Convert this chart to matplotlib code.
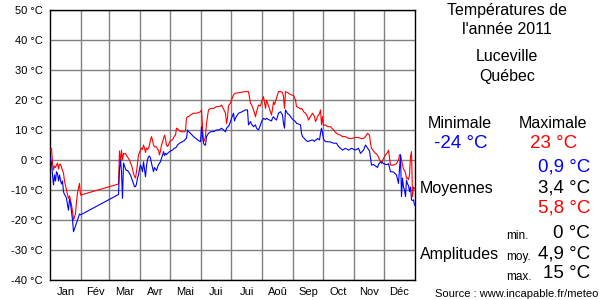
import matplotlib
matplotlib.use("Agg")
import matplotlib.pyplot as plt

plt.rcParams['font.family'] = ['Liberation Sans', 'DejaVu Sans']

# ---- data (day of year index, daily max / min in °C) ----
days = [0, 1, 2, 3, 4, 5, 6, 7, 8, 9, 10, 11, 12, 13, 14, 15, 16, 17, 18, 19, 20,
        21, 22, 23, 24, 25, 26, 27, 28, 29, 30,
        68, 69, 70, 71, 72, 73, 74, 75, 76, 77, 78, 79, 80, 81, 82, 83, 84, 85, 86, 87,
        88, 89, 90, 91, 92, 93, 94, 95, 96, 97, 98, 99, 100, 101, 102, 103, 104, 105, 106,
        107, 108, 109, 110, 111, 112, 113, 114, 115, 116, 117, 118, 119, 120, 122, 124, 125,
        126, 127, 128, 130, 132, 134, 135, 136, 137, 138, 140, 143, 146, 148, 150, 151, 152,
        153, 154, 155, 156, 158, 160, 163, 166, 168, 170, 171, 173, 175, 176, 177, 178, 180,
        181, 183, 184, 185, 188, 191, 195, 197, 198, 200, 201, 203, 205, 206, 208, 210, 211,
        213, 215, 216, 218, 221, 222, 223, 224, 226, 228, 230, 232, 233, 234, 235, 237, 239,
        241, 243, 245, 246, 248, 250, 251, 252, 253, 255, 257, 258, 260, 262, 264, 265, 266,
        267, 269, 270, 271, 272, 273, 275, 277, 280, 283, 286, 288, 290, 292, 295, 298, 301,
        305, 308, 310, 313, 315, 317, 319, 320, 321, 323, 325, 326, 327, 328, 329, 331, 333,
        335, 337, 338, 340, 343, 346, 348, 349, 350, 351, 352, 353, 354, 355, 356, 357, 358,
        359, 360, 361, 362, 363, 364]

t_max = [3.3, 3.9, -1, -3.3, -2, -2.5, -1.7, -1, -3, -1.4, -1.4, -2.5, -3.5, -4.4, -7, -8.5,
         -10, -11.5, -12.8, -12, -13.3, -15, -17, -20, -19, -17.8, -13.9, -11, -9.4, -7.8, -11.7,
         -8, 3, -1, 3.3, 0, 2.2, 2, 2.2, 1.5, 1, 0.5, 0, -1, -1.7, -3, -4.5, -5.5, -6, -3.9, -1,
         1.7, 2.5, 3.3, 4, 3.5, 5, 4, 2.5, 4, 3.5, 4, 5, 6.7, 7.8, 6.5, 5, 4.4, 4.4, 4.4,
         3.5, 3.3, 1.7, 3, 5, 6, 7.2, 8.3, 7, 5, 4.5, 5, 6, 6.5, 6.7, 8, 8.3,
         10.6, 10.5, 10, 9.5, 9.4, 9.4, 9.8, 14, 14.4, 14.5, 15, 15.6, 15.6, 15.8, 16.1, 16.7, 11,
         6.1, 6.5, 8, 12.2, 16.7, 17.2, 17.2, 17.8, 17.8, 18, 18.3, 17, 15.6, 12.2, 14, 18, 19,
         20, 21.7, 22, 22.3, 22.4, 22.6, 22.8, 22.8, 22.8, 18.9, 18.5, 16.7, 14.4, 16, 18.3, 18, 19.4,
         21.1, 17.2, 20, 18, 15, 17, 19.4, 18.5, 20.6, 22.8, 22.8, 22.5, 21.1, 17.2, 22.8, 22.5, 22,
         21.7, 21.5, 20, 17.8, 17.5, 17, 17.2, 16.8, 16.1, 15.6, 14.5, 13.3, 14.5, 15.6, 14.5, 12.8, 13.5,
         14.5, 15.5, 16.7, 11.7, 14.5, 11.5, 11.7, 11.1, 11.1, 10, 8.9, 8.5, 8.3, 7.8, 7.8, 7.2, 7.2,
         7.5, 7.5, 7.2, 7.2, 7.8, 8.9, 8.3, 5.6, 3.9, 3, 2.2, 2, 1.5, 1, 0, -1.1, 0.5,
         1.7, 2.5, 3.3, -1.7, -1.7, -1.2, 0, 1.7, 1.7, 0, -1.5, -3, -3.5, -4.4, -6.1, -6, -6.5,
         -5, 1.1, 2.8, -12.2, -9, -9.5]

t_min = [0.6, -1, -5, -8.3, -5, -7, -3.9, -4.5, -7, -5, -6.7, -8, -7, -10.6, -11.5, -12,
         -12.8, -15, -16.7, -13, -14.4, -17.2, -20, -23.9, -23, -22, -21, -20, -18.9, -18, -18.3,
         -11.5, -3, 0, -4, -12.8, -1, -2, -3, -3.5, -3.5, -3.9, -4.5, -5, -6, -7, -8, -8.9, -8.9, -8, -6,
         -5, -3, -1.7, -2.5, -3.9, -0.6, -3, -5.6, -2, 0, 1.1, 1.3, 0.5, -1.1, -2.5, -3.9, -2.5, -3, -3.5,
         -2.5, -1.5, -1.1, -0.5, 0.6, 1.5, 2.8, 1.5, 2.2, 1.8, 2.2, 2.5, 2.8, 3, 3.3, 4, 4,
         4.4, 5, 5.3, 5.8, 6.1, 6.5, 7, 7.2, 10, 9.5, 8.9, 7.8, 7, 6.5, 6.1, 11.1, 8,
         5.6, 5, 5, 7.8, 8.9, 9.4, 9.5, 10, 10, 10.3, 10.6, 10, 9.4, 10.5, 11, 11.1, 12.8,
         13.9, 15.6, 13, 14, 15.6, 16, 16.7, 16.7, 11.7, 12.8, 12, 11.1, 11.7, 10.6, 10, 11.7, 12.8,
         13.9, 13.5, 13.9, 13.5, 13, 14, 14.4, 13.9, 13.3, 15.6, 16.1, 15, 12.2, 10.6, 16.7, 15.5, 15,
         14, 13.3, 12.8, 12.2, 12, 11.7, 8.9, 7.8, 7.5, 6.7, 6.2, 6.2, 6.5, 6.7, 6.2, 6.7, 6.7,
         7.2, 6.7, 8.9, 10.6, 9, 7, 6.1, 6.1, 6, 5.6, 5.6, 4.5, 3.9, 3.3, 3.9, 3.3, 3.9,
         3.3, 3.9, 2.2, 3.3, 5, 4, 3, 0.6, -1.7, -1.5, -2, -2.2, -2.5, -1.5, -1, -0.6, -1.2,
         -1.5, -1.5, -1.2, -3.9, -4, -5, -7.8, -3, 1.7, -12.2, -6, -9, -10, -12.2, -6.7, -8, -8.5,
         -10.5, -9, -13.3, -13.5, -13.3, -15]

month_labels = ['Jan', 'Fév', 'Mar', 'Avr', 'Mai', 'Jui', 'Jui', 'Aoû', 'Sep', 'Oct', 'Nov', 'Déc']
month_lengths = [31, 28, 31, 30, 31, 30, 31, 31, 30, 31, 30, 31]
y_ticks = list(range(-40, 51, 10))

title_lines = ["Températures de", "l'année 2011"]
place_lines = ["Luceville", "Québec"]
stat_min, stat_max = "-24 °C", "23 °C"
mean_min, mean_avg, mean_max = "0,9 °C", "3,4 °C", "5,8 °C"
amp_min, amp_avg, amp_max = "0 °C", "4,9 °C", "15 °C"
source = "Source : www.incapable.fr/meteo"

# ---- figure ----
W, H = 600, 300
fig = plt.figure(figsize=(6, 3), dpi=100)
ax = fig.add_axes([50 / W, 20 / H, 365 / W, 270 / H])

starts = [0]
for m in month_lengths:
    starts.append(starts[-1] + m)

ax.set_xlim(0, 365)
ax.set_ylim(-40, 50)
for y in y_ticks:
    ax.axhline(y, color='#808080', lw=1.0, zorder=1)
for s in starts[1:-1]:
    ax.axvline(s, color='#808080', lw=1.0, zorder=1)

xs = [d + 0.5 for d in days]
ax.plot(xs, t_max, color='#ff0000', lw=0.8, zorder=3)
ax.plot(xs, t_min, color='#0000ff', lw=0.8, zorder=4)

ax.set_yticks(y_ticks)
ax.set_yticklabels([f"{v} °C" for v in y_ticks], fontsize=8)
mids = [(starts[i] + starts[i + 1]) / 2 for i in range(12)]
ax.set_xticks(mids)
ax.set_xticklabels(month_labels, fontsize=8)
ax.tick_params(length=0, pad=5)
for sp in ax.spines.values():
    sp.set_color('black')
    sp.set_linewidth(1.0)


def t(x, y, s, size=11.5, color='black', ha='center'):
    fig.text(x / W, 1 - y / H, s, fontsize=size, color=color, ha=ha, va='center')


t(507, 11, title_lines[0])
t(507, 30, title_lines[1])
t(507, 57, place_lines[0])
t(507, 77, place_lines[1])
t(460, 124, "Minimale")
t(553, 124, "Maximale")
t(461, 144, stat_min, size=13.5, color='#0000ff')
t(554, 144, stat_max, size=13.5, color='#ff0000')
t(590, 167, mean_min, size=13.5, color='#0000ff', ha='right')
t(590, 188, mean_avg, size=13.5, ha='right')
t(590, 208, mean_max, size=13.5, color='#ff0000', ha='right')
t(420, 189, "Moyennes", ha='left')
t(506, 236, "min.", size=8.5, ha='left')
t(506, 257, "moy.", size=8.5, ha='left')
t(506, 277, "max.", size=8.5, ha='left')
t(590, 233, amp_min, size=13.5, ha='right')
t(590, 254, amp_avg, size=13.5, ha='right')
t(590, 273, amp_max, size=13.5, ha='right')
t(420, 254, "Amplitudes", ha='left')
t(598, 294, source, size=8, ha='right')

fig.savefig("out.png", dpi=100)
